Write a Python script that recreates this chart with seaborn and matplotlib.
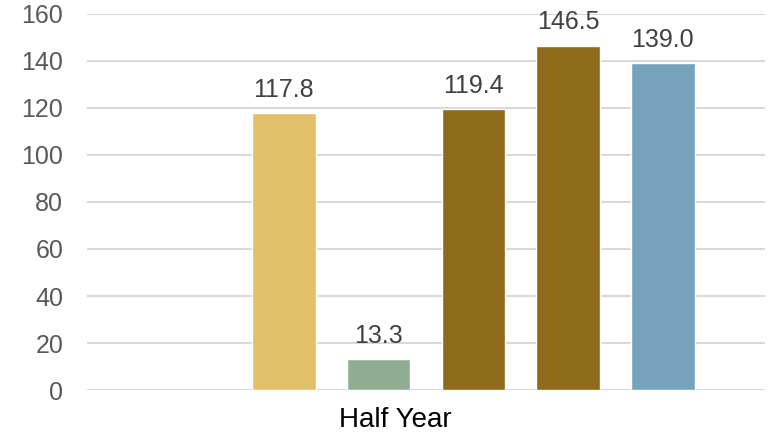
import numpy as np
import pandas as pd
import matplotlib
matplotlib.use("Agg")
import matplotlib.pyplot as plt
import matplotlib.transforms as mtransforms
import seaborn as sns

categories = ["Half Year"]
series = ["S0", "S1", "S2", "S3", "S4", "S5"]
values = [np.nan, 117.8, 13.3, 119.4, 146.5, 139.0]
colors = ["#FFFFFF", "#E4BF6A", "#8FAD8F", "#8F6A1A", "#8F6A1A", "#76A3BC"]
y_ticks = [0, 20, 40, 60, 80, 100, 120, 140, 160]

df = pd.DataFrame({
    "cat": [categories[0]] * len(series),
    "series": series,
    "val": values,
})

sns.set_theme(style="white")
plt.rcParams["font.family"] = ["Liberation Sans", "DejaVu Sans"]

fig = plt.figure(figsize=(7.69, 4.32), dpi=100)
ax = fig.add_axes([0.113, 0.097, 0.882, 0.871])

sns.barplot(data=df, x="cat", y="val", hue="series", hue_order=series,
            palette=dict(zip(series, colors)), width=0.838, gap=0.33,
            legend=False, ax=ax, errorbar=None, saturation=1)

ax.set_xlim(-0.5, 0.5)
ax.set_ylim(0, 160)
ax.set_yticks(y_ticks)
ax.yaxis.grid(True, color="#D9D9D9", linewidth=1.5)
ax.set_axisbelow(True)
for s in ax.spines.values():
    s.set_visible(False)
ax.set_xlabel("")
ax.set_ylabel("")
ax.tick_params(axis="y", length=0, pad=17, labelsize=18, labelcolor="#595959")
ax.tick_params(axis="x", length=0, pad=12, labelsize=20, labelcolor="#000000")

offset = mtransforms.ScaledTranslation(-31 / 100, 0, fig.dpi_scale_trans)
for lbl in ax.get_xticklabels():
    lbl.set_transform(lbl.get_transform() + offset)

for cont in ax.containers:
    labels = []
    for rect in cont:
        h = rect.get_height()
        labels.append("" if (h is None or np.isnan(h) or h == 0) else f"{h:.1f}")
    ax.bar_label(cont, labels=labels, padding=8, fontsize=18, color="#404040")

fig.savefig("out.png", dpi=100)
